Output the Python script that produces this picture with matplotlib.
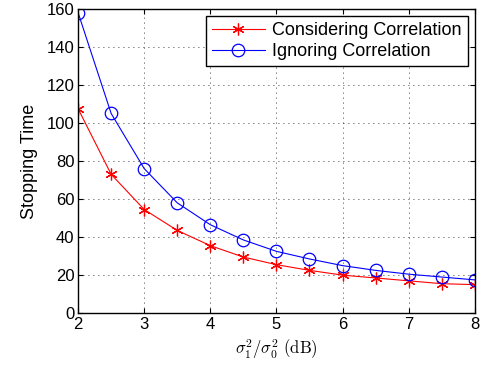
import numpy as np
import matplotlib
matplotlib.use('Agg')
import matplotlib.pyplot as plt

plt.rcParams['font.family'] = ['Liberation Sans', 'DejaVu Sans']
plt.rcParams['mathtext.fontset'] = 'cm'

snr_db = [2, 2.5, 3, 3.5, 4, 4.5, 5, 5.5, 6, 6.5, 7, 7.5, 8]
considering = [107.5, 73, 54.5, 43.5, 35.5, 29.5, 25.5, 22.5, 20, 18.5, 17, 15.5, 15]
ignoring = [158, 105, 76, 58, 46.5, 38.5, 32.5, 28.5, 25, 22.5, 20.5, 19, 17.5]

fig = plt.figure(figsize=(4.82, 3.68), dpi=100)
ax = fig.add_axes([0.162, 0.149, 0.823, 0.827])

ax.plot(snr_db, considering, 'r-', marker=(6, 2, 0), markersize=8.5, markeredgewidth=0.9,
        linewidth=0.8, label='Considering Correlation')
ax.plot(snr_db, ignoring, 'b-', marker='o', markersize=9, markerfacecolor='none',
        markeredgewidth=0.9, linewidth=0.8, label='Ignoring Correlation')

ax.set_xlim(2, 8)
ax.set_ylim(0, 160)
ax.set_xticks(range(2, 9))
ax.set_yticks(range(0, 161, 20))
ax.grid(True, color='black', linestyle=(0, (1, 5)), linewidth=0.6)
ax.tick_params(direction='in', top=True, right=True, labelsize=12, length=3.5, pad=2.5)
for s in ax.spines.values():
    s.set_linewidth(1.0)

ax.set_xlabel(r'$\sigma_1^2/\sigma_0^2\ \mathrm{(dB)}$', fontsize=12, labelpad=4)
ax.set_ylabel('Stopping Time', fontsize=13, labelpad=6)

leg = ax.legend(loc='upper right', fontsize=13, fancybox=False, framealpha=1,
                edgecolor='black', borderaxespad=0.4, handlelength=2.9,
                handletextpad=0.4, borderpad=0.35, labelspacing=0.2)
leg.get_frame().set_linewidth(1.0)

fig.savefig('out.png', dpi=100)
